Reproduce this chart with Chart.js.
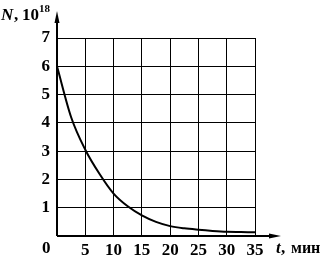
<!DOCTYPE html>
<html>
<head>
<meta charset="utf-8">
<script src="https://cdn.jsdelivr.net/npm/chart.js@4"></script>
<style>
  body { margin: 0; background: #fff; }
  #wrap { width: 322px; height: 260px; }
</style>
</head>
<body>
<div id="wrap"><canvas id="grafico" width="322" height="260"></canvas></div>
<script>
// время, мин
const tempos = [0, 2.5, 5, 7.5, 10, 12.5, 15, 17.5, 20, 22.5, 25, 27.5, 30, 32.5, 35]
// N, 10^18
const valoresN = [6.0, 4.2, 3.05, 2.2, 1.5, 1.05, 0.73, 0.5, 0.35, 0.27, 0.22, 0.18, 0.15, 0.14, 0.13]
const ticksX = [0, 5, 10, 15, 20, 25, 30, 35]
const ticksY = [0, 1, 2, 3, 4, 5, 6, 7]

const familia = '"Liberation Serif", "DejaVu Serif", serif'
const fonte = 'bold 17px ' + familia

// eixos com setas e rótulos
const eixos = {
  id: 'eixos',
  afterDraw(chart) {
    const ctx = chart.ctx
    const a = chart.chartArea
    ctx.save()
    ctx.strokeStyle = '#000'
    ctx.fillStyle = '#000'
    ctx.lineWidth = 2
    ctx.beginPath()
    ctx.moveTo(a.left, a.bottom)
    ctx.lineTo(a.left, 20)
    ctx.moveTo(a.left, a.bottom)
    ctx.lineTo(272, a.bottom)
    ctx.stroke()
    // seta y
    ctx.beginPath()
    ctx.moveTo(a.left, 11)
    ctx.lineTo(a.left - 2.5, 23)
    ctx.lineTo(a.left + 2.5, 23)
    ctx.closePath()
    ctx.fill()
    // seta x
    ctx.beginPath()
    ctx.moveTo(281, a.bottom)
    ctx.lineTo(269, a.bottom - 2.5)
    ctx.lineTo(269, a.bottom + 2.5)
    ctx.closePath()
    ctx.fill()

    ctx.textBaseline = 'alphabetic'
    ctx.textAlign = 'left'
    ctx.font = fonte
    ctx.fillText('0', 42, 253)
    ctx.font = 'italic bold 17px ' + familia
    ctx.fillText('N', 1, 20)
    ctx.fillText('t', 276, 253)
    ctx.font = fonte
    ctx.fillText(',', 14, 20)
    ctx.fillText('10', 22, 20)
    ctx.fillText(',', 281, 253)
    ctx.font = 'bold 16px ' + familia
    ctx.fillText('мин', 291, 253, 31)
    ctx.font = 'bold 11px ' + familia
    ctx.fillText('18', 39, 12)
    ctx.restore()
  }
}

new Chart(document.getElementById('grafico'), {
  type: 'line',
  data: {
    datasets: [{
      data: tempos.map((t, i) => ({ x: t, y: valoresN[i] })),
      borderColor: '#000',
      borderWidth: 2,
      pointRadius: 0,
      cubicInterpolationMode: 'monotone',
      fill: false
    }]
  },
  options: {
    responsive: false,
    animation: false,
    layout: { padding: { top: 38, right: 67, left: 0, bottom: 0 } },
    plugins: { legend: { display: false }, tooltip: { enabled: false } },
    scales: {
      x: {
        type: 'linear',
        min: 0,
        max: 35,
        afterBuildTicks: s => { s.ticks = ticksX.map(v => ({ value: v })) },
        afterFit: s => { s.height = 24 },
        border: { display: false },
        grid: { color: '#000', lineWidth: 1, drawTicks: false },
        ticks: {
          color: '#000',
          padding: 4,
          maxRotation: 0,
          font: { family: familia, size: 17, weight: 'bold' },
          callback: v => v === 0 ? '' : v
        }
      },
      y: {
        min: 0,
        max: 7,
        afterBuildTicks: s => { s.ticks = ticksY.map(v => ({ value: v })) },
        afterFit: s => { s.width = 57 },
        border: { display: false },
        grid: { color: '#000', lineWidth: 1, drawTicks: false },
        ticks: {
          color: '#000',
          padding: 7,
          font: { family: familia, size: 17, weight: 'bold' },
          callback: v => v === 0 ? '' : v
        }
      }
    }
  },
  plugins: [eixos]
})
</script>
</body>
</html>
